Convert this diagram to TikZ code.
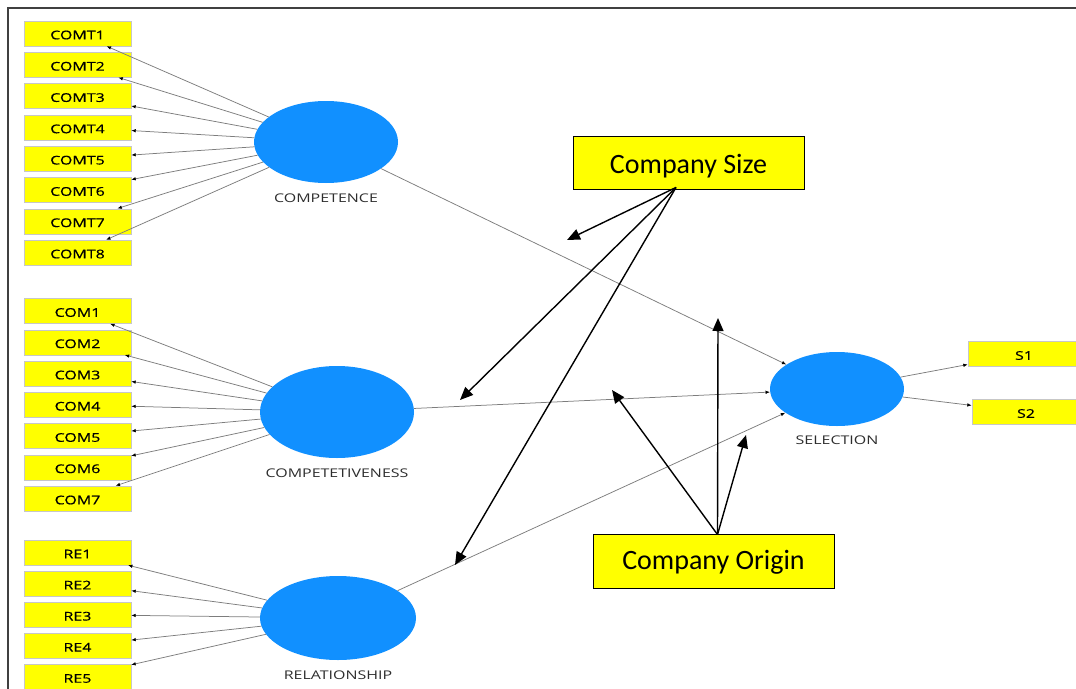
\documentclass[tikz,border=0pt]{standalone}
\usepackage{fontspec}
\usetikzlibrary{shapes.geometric,arrows.meta,calc}
\setmainfont{Carlito}
\newfontfamily\lblfont[FakeStretch=1.33]{Open Sans}
\newfontfamily\indfont[FakeStretch=1.33,FakeBold=0.6]{Open Sans}
\definecolor{latent}{RGB}{17,144,255}
\definecolor{indyellow}{RGB}{255,255,0}
\definecolor{linegray}{RGB}{125,125,125}
\definecolor{labelgray}{RGB}{45,45,45}

\begin{document}
\begin{tikzpicture}[x=1pt,y=-1pt,
  ind/.style={draw=black!22, line width=0.4pt, fill=indyellow,
    minimum width=107pt, minimum height=25pt, inner sep=0pt,
    text height=11.6pt, text depth=0pt,
    font=\indfont\fontsize{12}{12}\selectfont},
  lv/.style={ellipse, fill=latent, inner sep=0pt},
  lvlabel/.style={font=\lblfont\fontsize{12}{12}\selectfont, text=labelgray, inner sep=0pt},
  link/.style={draw=linegray, line width=0.75pt,
    -{Latex[length=4.5pt,width=3.5pt,color=black]}},
  modbox/.style={draw=black, line width=0.9pt, fill=indyellow,
    font=\fontsize{28}{28}\selectfont, inner sep=0pt, text depth=0pt},
  modarrow/.style={draw=black, line width=1.4pt,
    -{Triangle[length=13pt,width=11pt]}},
]
\useasboundingbox (0,0) rectangle (1076,688);
\clip (0,0) rectangle (1076,688);

% outer frame
\draw[line width=1.6pt, black!75] (8,700) -- (8,8) -- (1090,8);

% centres of the latent variables
\path (326,142) coordinate (p-competence)
      (337,412) coordinate (p-competitiveness)
      (338,618) coordinate (p-relationship)
      (837,389) coordinate (p-selection);

% latent variables
\node[lv, minimum width=144pt, minimum height=82pt] (competence) at (p-competence) {};
\node[lv, minimum width=154pt, minimum height=92pt] (competitiveness) at (p-competitiveness) {};
\node[lv, minimum width=156pt, minimum height=84pt] (relationship) at (p-relationship) {};
\node[lv, minimum width=134pt, minimum height=74pt] (selection) at (p-selection) {};

\node[lvlabel] (competence-lbl) at (326,198) {COMPETENCE};
\node[lvlabel] (competitiveness-lbl) at (337,473) {COMPETETIVENESS};
\node[lvlabel] (relationship-lbl) at (338,675) {RELATIONSHIP};
\node[lvlabel] (selection-lbl) at (837,440) {SELECTION};

% indicator boxes
\foreach \i in {1,...,8}
  \node[ind] (comt\i) at (77.5,{33.5+(\i-1)*31.29}) {COMT\i};
\foreach \i in {1,...,7}
  \node[ind] (com\i) at (77.5,{311+(\i-1)*31.25}) {COM\i};
\foreach \i in {1,...,5}
  \node[ind] (re\i) at (77.5,{552.5+(\i-1)*31.1}) {RE\i};
\node[ind, minimum width=112pt] (s1) at (1024,354) {S1};
\node[ind, minimum width=108pt] (s2) at (1026,412) {S2};

% loadings
\foreach \i in {1,...,8}
  \draw[link] (competence) -- (comt\i);
\foreach \i in {1,...,7}
  \draw[link] (competitiveness) -- (com\i);
\foreach \i in {1,...,5}
  \draw[link] (relationship) -- (re\i);
\draw[link] (selection) -- (s1);
\draw[link] (selection) -- (s2);

% structural paths
\draw[link] (competence) -- (selection);
\draw[link] (competitiveness) -- (selection);
\draw[link] (relationship) -- (selection);

% moderators
\node[modbox, minimum width=231pt, minimum height=53pt, text height=21pt] (csize) at (688.5,162.5) {Company Size};
\node[modbox, minimum width=241pt, minimum height=54pt, text height=17pt] (corigin) at (713.5,561) {Company Origin};

\coordinate (cs-src) at ([xshift=-12.5pt,yshift=2pt]csize.south);
\coordinate (cs-a) at (567,240);
\coordinate (cs-b) at (460,400);
\coordinate (cs-c) at (455,565);
\draw[modarrow] (cs-src) -- (cs-a);
\draw[modarrow] (cs-src) -- (cs-b);
\draw[modarrow] (cs-src) -- (cs-c);

\coordinate (co-src) at ([xshift=4pt,yshift=-1pt]corigin.north);
\coordinate (co-a) at (612,390);
\coordinate (co-b) at (718,318);
\coordinate (co-c) at (746,435);
\draw[modarrow] (co-src) -- (co-a);
\draw[modarrow] (co-src) -- (co-b);
\draw[modarrow] (co-src) -- (co-c);
\end{tikzpicture}
\end{document}
